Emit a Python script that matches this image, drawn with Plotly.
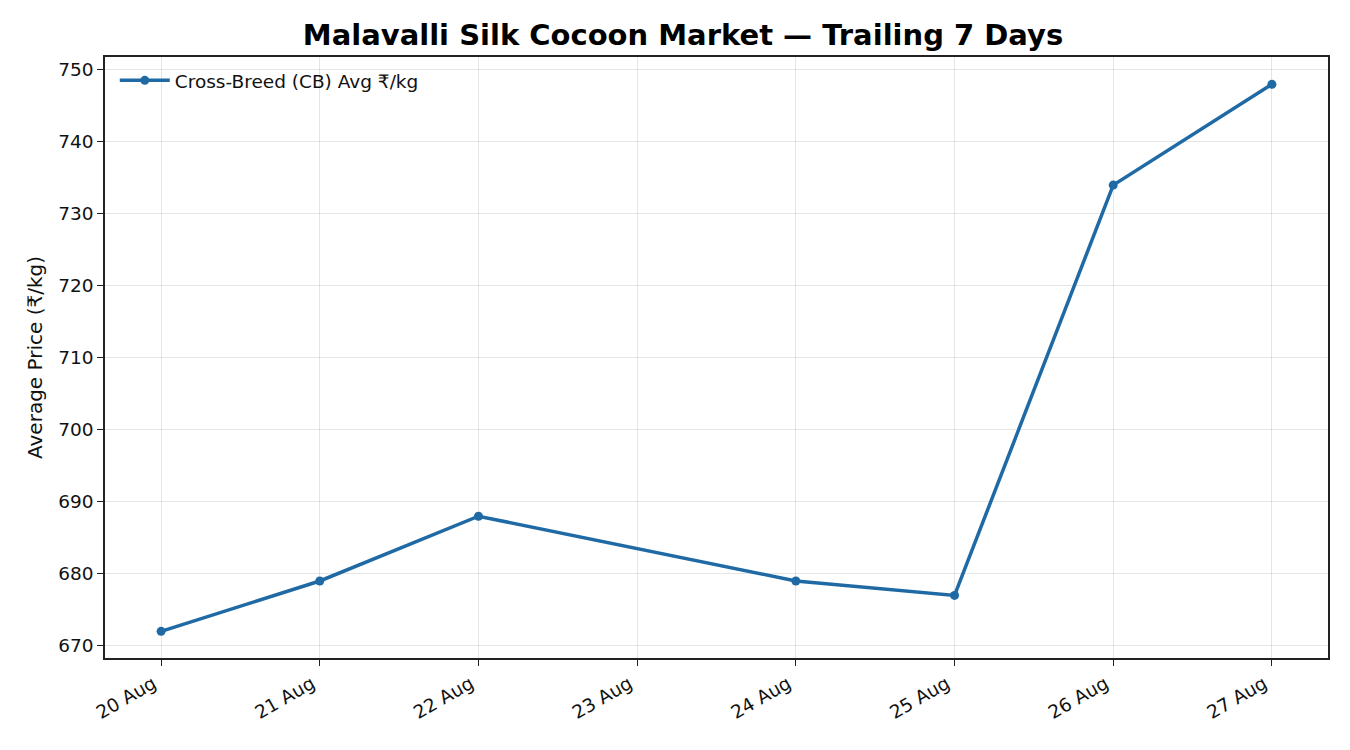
import plotly.graph_objects as go

dates = ["2024-08-20", "2024-08-21", "2024-08-22", "2024-08-24",
         "2024-08-25", "2024-08-26", "2024-08-27"]
prices = [672, 679, 688, 679, 677, 734, 748]
tick_dates = ["2024-08-20", "2024-08-21", "2024-08-22", "2024-08-23",
              "2024-08-24", "2024-08-25", "2024-08-26", "2024-08-27"]
tick_labels = ["20 Aug", "21 Aug", "22 Aug", "23 Aug",
               "24 Aug", "25 Aug", "26 Aug", "27 Aug"]
y_ticks = [670, 680, 690, 700, 710, 720, 730, 740, 750]

blue = "#1f6aa5"

fig = go.Figure()
fig.add_trace(go.Scatter(
    x=dates, y=prices, mode="lines+markers",
    name="Cross-Breed (CB) Avg ₹/kg",
    line=dict(color=blue, width=3.5),
    marker=dict(color=blue, size=9),
))

axis_common = dict(
    showline=True, linecolor="#222", linewidth=1.6, mirror=True,
    ticks="outside", ticklen=6, tickwidth=1.4, tickcolor="#222",
    showgrid=True, gridcolor="rgba(0,0,0,0.1)", gridwidth=1.2,
    zeroline=False, tickfont=dict(size=18.5, color="#111"),
)

# page body adds ~8px offset, margins compensate
fig.update_layout(
    width=1350, height=750,
    paper_bgcolor="white", plot_bgcolor="white",
    font=dict(family="DejaVu Sans", color="#111"),
    margin=dict(l=97, r=30, t=49, b=100),
    title=dict(text="<b>Malavalli Silk Cocoon Market — Trailing 7 Days</b>",
               x=0.5, xanchor="center", y=0.978, yanchor="top",
               font=dict(size=29, color="#000")),
    showlegend=True,
    legend=dict(x=0.008, y=0.992, xanchor="left", yanchor="top",
                itemwidth=50,
                bgcolor="rgba(255,255,255,0)", font=dict(size=18.5)),
    xaxis=dict(axis_common, type="date",
               range=["2024-08-19 15:31", "2024-08-27 08:29"],
               tickvals=tick_dates, ticktext=tick_labels, tickangle=-30,
               ticklabelshift=-8),
    yaxis=dict(axis_common, range=[668.3, 751.8], tickvals=y_ticks,
               title=dict(text="Average Price (₹/kg)", font=dict(size=20),
                          standoff=10)),
)

fig.write_html("out.html")
